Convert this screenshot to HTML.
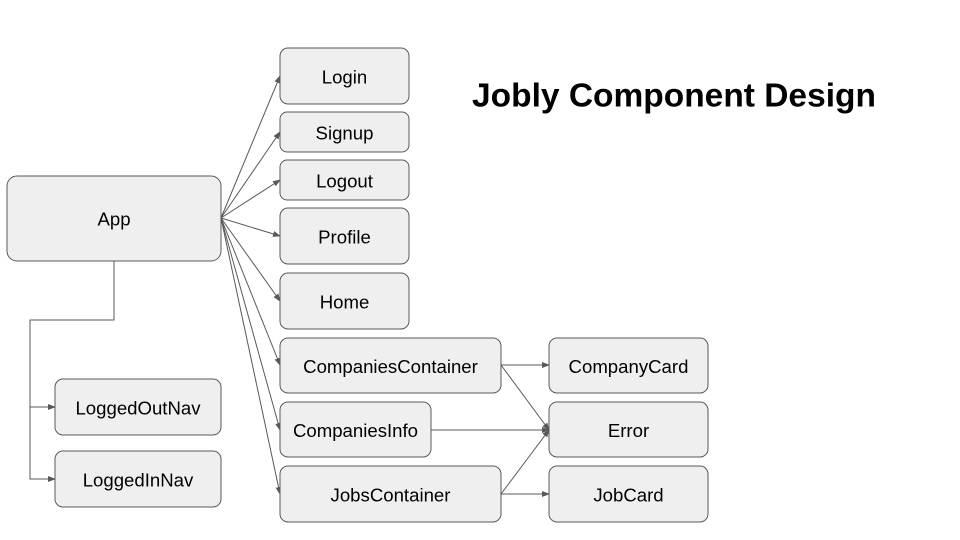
<!DOCTYPE html>
<html><head><meta charset="utf-8"><style>
html,body{margin:0;padding:0;background:#fff;}
svg{display:block;}
text{font-family:"Liberation Sans",Arial,sans-serif;font-size:18.6px;fill:#000;text-anchor:middle;dominant-baseline:central;}
rect{fill:#efefef;stroke:#595959;stroke-width:1;}
line,polyline{stroke:#595959;stroke-width:1;fill:none;}
</style></head><body>
<svg width="960" height="540" viewBox="0 0 960 540" xmlns="http://www.w3.org/2000/svg">
<defs><marker id="a" markerWidth="8" markerHeight="6" refX="7" refY="3" orient="auto" markerUnits="userSpaceOnUse"><path d="M0,0 L8,3 L0,6 z" fill="#595959"/></marker></defs>
<g marker-end="url(#a)">
<line x1="221" y1="218" x2="280" y2="76"/>
<line x1="221" y1="218" x2="280" y2="132"/>
<line x1="221" y1="218" x2="280" y2="180"/>
<line x1="221" y1="218" x2="280" y2="236"/>
<line x1="221" y1="218" x2="280" y2="301"/>
<line x1="221" y1="218" x2="280" y2="365"/>
<line x1="221" y1="218" x2="280" y2="430"/>
<line x1="221" y1="218" x2="280" y2="494"/>
<line x1="501" y1="365" x2="549" y2="365"/>
<line x1="501" y1="365" x2="549" y2="430"/>
<line x1="431" y1="430" x2="549" y2="430"/>
<line x1="501" y1="494" x2="549" y2="430"/>
<line x1="501" y1="494" x2="549" y2="494"/>
<polyline points="114,261 114,320 30,320 30,407 55,407"/>
<polyline points="30,400 30,479 55,479"/>
</g>
<rect x="7" y="176" width="214" height="85" rx="10"/><text x="114" y="219">App</text>
<rect x="280" y="48" width="129" height="56" rx="8"/><text x="344.5" y="77">Login</text>
<rect x="280" y="112" width="129" height="40" rx="7"/><text x="344.5" y="133">Signup</text>
<rect x="280" y="160" width="129" height="40" rx="7"/><text x="344.5" y="181">Logout</text>
<rect x="280" y="208" width="129" height="56" rx="8"/><text x="344.5" y="237">Profile</text>
<rect x="280" y="273" width="129" height="56" rx="8"/><text x="344.5" y="302">Home</text>
<rect x="280" y="338" width="221" height="55" rx="8"/><text x="390.5" y="366.5">CompaniesContainer</text>
<rect x="280" y="402" width="151" height="55" rx="8"/><text x="355.5" y="430.5">CompaniesInfo</text>
<rect x="280" y="466" width="221" height="56" rx="8"/><text x="390.5" y="495">JobsContainer</text>
<rect x="549" y="338" width="159" height="55" rx="8"/><text x="628.5" y="366.5">CompanyCard</text>
<rect x="549" y="402" width="159" height="55" rx="8"/><text x="628.5" y="430.5">Error</text>
<rect x="549" y="466" width="159" height="56" rx="8"/><text x="628.5" y="495">JobCard</text>
<rect x="55" y="379" width="166" height="56" rx="8"/><text x="138" y="408">LoggedOutNav</text>
<rect x="55" y="451" width="166" height="56" rx="8"/><text x="138" y="480">LoggedInNav</text>
<text x="674" y="96" style="font-size:33.5px;font-weight:bold;">Jobly Component Design</text>
</svg>
</body></html>
